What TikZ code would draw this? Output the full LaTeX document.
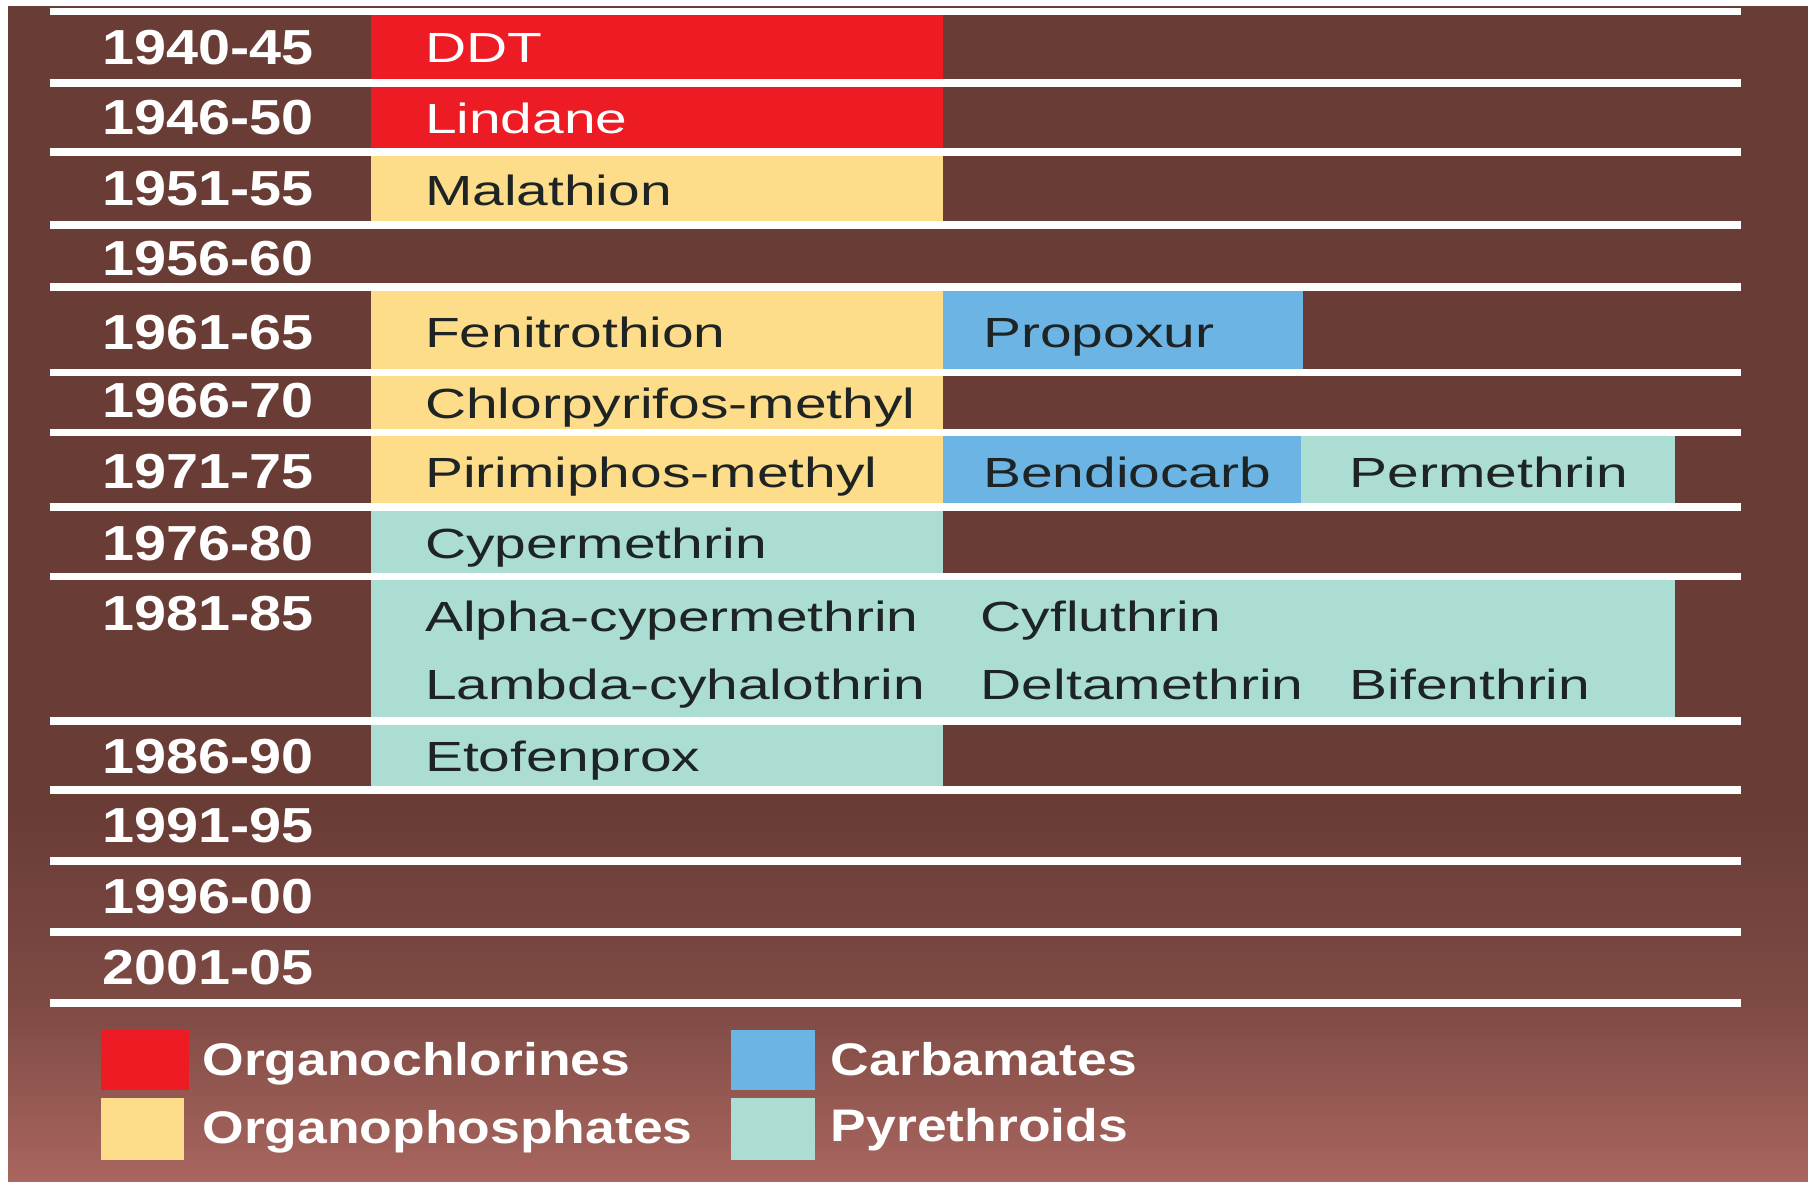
\documentclass[tikz,border=0pt]{standalone}
\usepackage{fontspec}
\setmainfont{Liberation Sans}
\newfontfamily\namefont{Liberation Sans}[FakeStretch=1.35]
\newfontfamily\yearfont{Liberation Sans}[FakeStretch=1.17]
\definecolor{BgBrown}{HTML}{6A3C36}
\definecolor{BgMid}{HTML}{7E4A44}
\definecolor{BgLight}{HTML}{A9665F}
\definecolor{OrgCl}{HTML}{ED1C24}
\definecolor{OrgPh}{HTML}{FDDC8A}
\definecolor{Carb}{HTML}{6CB4E4}
\definecolor{Pyr}{HTML}{ABDDD2}
\definecolor{TextDark}{HTML}{1E2424}

\begin{document}
\begin{tikzpicture}[
  x=0.11531mm, y=-0.11531mm,
  year/.style={anchor=base west, inner sep=0pt, text=white,
               font=\yearfont\bfseries\fontsize{14}{16}\selectfont},
  chem/.style={anchor=base west, inner sep=0pt, text=TextDark,
               font=\namefont\fontsize{12}{14}\selectfont},
  key/.style={anchor=base west, inner sep=0pt, text=white,
              font=\yearfont\bfseries\fontsize{13}{15}\selectfont},
  sep/.style={white, line width=2.2pt},
]
  \useasboundingbox (0,0) rectangle (1568,1025);
  % background
  \fill[white] (0,0) rectangle (1568,1025);
  \fill[BgBrown] (7,5) rectangle (1568,701);
  \shade[top color=BgBrown, bottom color=BgMid] (7,700) rectangle (1568,871);
  \shade[top color=BgMid, bottom color=BgLight] (7,870) rectangle (1568,1025);

  % class cells
  \fill[OrgCl] (322,10) rectangle (818,132);
  \fill[OrgPh] (322,132) rectangle (818,195);
  \fill[OrgPh] (322,249) rectangle (818,440);
  \fill[Carb] (818,249) rectangle (1130,323);
  \fill[Carb] (818,375) rectangle (1128,440);
  \fill[Pyr] (1128,375) rectangle (1453,440);
  \fill[Pyr] (322,440) rectangle (818,685);
  \fill[Pyr] (818,500) rectangle (1453,625);

  \foreach \y in {10,72,132,195,249,323,375,440,500,625,685,747,808,870}
    \draw[sep] (43,\y) -- (1510,\y);

  % periods
  \node[year] (p4045) at (88,56)  {1940-45};
  \node[year] (p4650) at (88,117) {1946-50};
  \node[year] (p5155) at (88,178) {1951-55};
  \node[year] (p5660) at (88,239) {1956-60};
  \node[year] (p6165) at (88,303) {1961-65};
  \node[year] (p6670) at (88,362) {1966-70};
  \node[year] (p7175) at (88,424) {1971-75};
  \node[year] (p7680) at (88,486) {1976-80};
  \node[year] (p8185) at (88,547) {1981-85};
  \node[year] (p8690) at (88,671) {1986-90};
  \node[year] (p9195) at (88,731) {1991-95};
  \node[year] (p9600) at (88,792) {1996-00};
  \node[year] (p0105) at (88,854) {2001-05};

  % insecticides
  \node[chem, text=white] (ddt) at (368,54) {DDT};
  \node[chem, text=white] (lindane) at (368,116) {Lindane};
  \node[chem] (malathion) at (368,178) {Malathion};
  \node[chem] (fenitro) at (368,301) {Fenitrothion};
  \node[chem] (propoxur) at (852,301) {Propoxur};
  \node[chem] (chlorpyr) at (368,363) {Chlorpyrifos-methyl};
  \node[chem] (pirimi) at (368,423) {Pirimiphos-methyl};
  \node[chem] (bendio) at (852,423) {Bendiocarb};
  \node[chem] (permeth) at (1170,423) {Permethrin};
  \node[chem] (cyperm) at (368,484) {Cypermethrin};
  \node[chem] (alpha) at (368,548) {Alpha-cypermethrin};
  \node[chem] (cyflu) at (850,548) {Cyfluthrin};
  \node[chem] (lambda) at (368,607) {Lambda-cyhalothrin};
  \node[chem] (delta) at (850,607) {Deltamethrin};
  \node[chem] (bifen) at (1170,607) {Bifenthrin};
  \node[chem] (etofen) at (368,669) {Etofenprox};

  % legend
  \fill[OrgCl] (88,893) rectangle (164,945);
  \fill[OrgPh] (88,952) rectangle (160,1006);
  \fill[Carb] (634,893) rectangle (707,945);
  \fill[Pyr] (634,952) rectangle (707,1006);
  \node[key] (kcl) at (175,933) {Organochlorines};
  \node[key] (kph) at (175,992) {Organophosphates};
  \node[key] (kcarb) at (720,933) {Carbamates};
  \node[key] (kpyr) at (720,990) {Pyrethroids};
\end{tikzpicture}
\end{document}
